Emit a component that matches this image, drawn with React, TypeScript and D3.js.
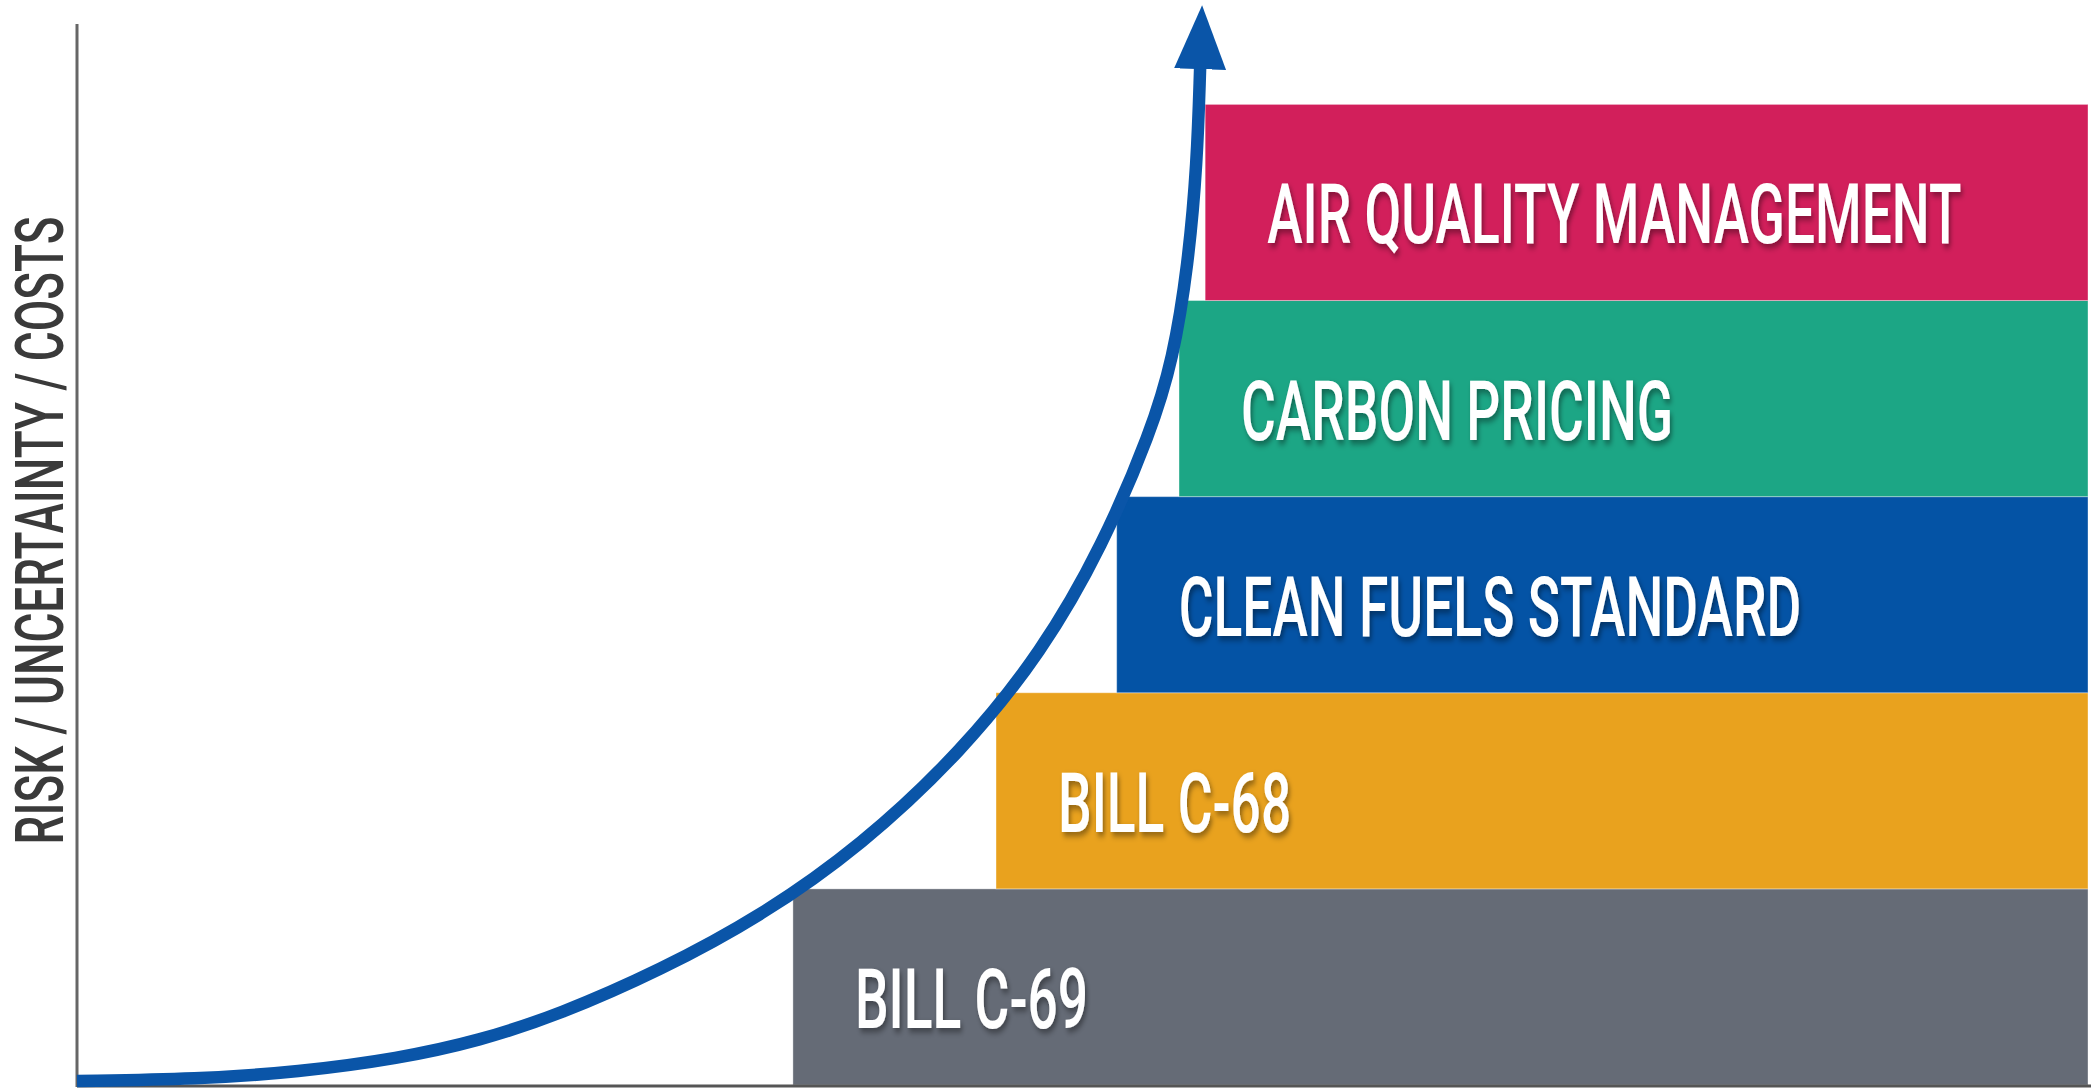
import * as d3 from "d3";
import { useEffect, useRef } from "react";

// policy blocks, listed bottom to top
const policies = [
  "BILL C-69",
  "BILL C-68",
  "CLEAN FUELS STANDARD",
  "CARBON PRICING",
  "AIR QUALITY MANAGEMENT",
];
const policyStart = [35.6, 45.7, 51.7, 54.8, 56.1]; // where each block begins on the x axis (0-100)
const policyColors = ["#656b76", "#e9a21e", "#0453a5", "#1ca685", "#d21f5b"];

// the risk curve: x along the axis (0-100), y in block heights
const curveX = [0, 6, 11, 16, 20, 24, 29, 34, 39, 44, 48, 51, 53.4, 54.5, 55.25, 55.7, 55.85];
const curveY = [0.02, 0.03, 0.066, 0.135, 0.225, 0.36, 0.585, 0.86, 1.22, 1.7, 2.21, 2.75, 3.33, 3.7, 4.18, 4.7, 5.19];

const axisTitle = "RISK / UNCERTAINTY / COSTS";

const WIDTH = 2091;
const HEIGHT = 1089;
const labelCondense = 0.635; // horizontal squeeze to mimic a condensed face
const titleCondense = 0.695;
const FONT = "Roboto, 'Liberation Sans', Arial, sans-serif";

const Chart = () => {
  const svgRef = useRef<SVGSVGElement | null>(null);

  useEffect(() => {
    if (!svgRef.current) return;
    const svg = d3.select(svgRef.current);
    svg.selectAll("*").remove();

    const x = d3.scaleLinear().domain([0, 100]).range([77, 2088]);
    const y = d3.scaleLinear().domain([0, 5.41]).range([1085, 24]);

    const defs = svg.append("defs");
    defs
      .append("filter")
      .attr("id", "shadow")
      .attr("x", "-10%")
      .attr("y", "-30%")
      .attr("width", "130%")
      .attr("height", "170%")
      .append("feDropShadow")
      .attr("dx", 3)
      .attr("dy", 4)
      .attr("stdDeviation", 3)
      .attr("flood-color", "#000")
      .attr("flood-opacity", 0.4);

    defs
      .append("marker")
      .attr("id", "arrow")
      .attr("markerUnits", "userSpaceOnUse")
      .attr("viewBox", "0 -26 66 52")
      .attr("markerWidth", 66)
      .attr("markerHeight", 52)
      .attr("refX", 2)
      .attr("refY", 0)
      .attr("orient", "auto")
      .append("path")
      .attr("d", "M0,-26L64,0L0,26Z")
      .attr("fill", "#0a55a8");

    svg
      .append("rect")
      .attr("width", WIDTH)
      .attr("height", HEIGHT)
      .attr("fill", "#fff");

    // blocks
    const blocks = svg
      .append("g")
      .selectAll("g")
      .data(policies)
      .join("g");

    blocks
      .append("rect")
      .attr("x", (d, i) => x(policyStart[i]))
      .attr("y", (d, i) => y(i + 1))
      .attr("width", (d, i) => x(100) - x(policyStart[i]))
      .attr("height", (d, i) => y(i) - y(i + 1))
      .attr("fill", (d, i) => policyColors[i])
      .attr("stroke", "#fff")
      .attr("stroke-opacity", 0.35)
      .attr("stroke-width", 1);

    blocks
      .append("text")
      .attr(
        "transform",
        (d, i) =>
          `translate(${x(policyStart[i]) + 62}, ${(y(i) + y(i + 1)) / 2 + 41}) scale(${labelCondense}, 1)`
      )
      .attr("font-family", FONT)
      .attr("font-weight", 500)
      .attr("font-size", 84)
      .attr("fill", "#fff")
      .attr("filter", "url(#shadow)")
      .text((d) => d);

    // axes
    svg
      .append("line")
      .attr("x1", x(0))
      .attr("x2", WIDTH)
      .attr("y1", y(0) + 1)
      .attr("y2", y(0) + 1)
      .attr("stroke", "#555")
      .attr("stroke-width", 3);

    svg
      .append("line")
      .attr("x1", x(0))
      .attr("x2", x(0))
      .attr("y1", y(5.41))
      .attr("y2", y(0) + 2)
      .attr("stroke", "#666")
      .attr("stroke-width", 3);

    svg
      .append("text")
      .attr("transform", `translate(63, ${(y(0) + y(5.41)) / 2 - 24}) rotate(-90) scale(${titleCondense}, 1)`)
      .attr("text-anchor", "middle")
      .attr("font-family", FONT)
      .attr("font-weight", 500)
      .attr("font-size", 66)
      .attr("fill", "#3a3a3a")
      .text(axisTitle);

    // risk curve
    const line = d3
      .line<number>()
      .x((i) => x(curveX[i]))
      .y((i) => y(curveY[i]))
      .curve(d3.curveBasis);

    svg
      .append("path")
      .attr("d", line(d3.range(curveX.length)))
      .attr("fill", "none")
      .attr("stroke", "#0a55a8")
      .attr("stroke-width", 12.5)
      .attr("marker-end", "url(#arrow)");
  }, []);

  return (
    <svg
      ref={svgRef}
      width={WIDTH}
      height={HEIGHT}
      style={{ position: "absolute", left: 0, top: 0, display: "block" }}
    />
  );
};

export default function App() {
  return <Chart />;
}
